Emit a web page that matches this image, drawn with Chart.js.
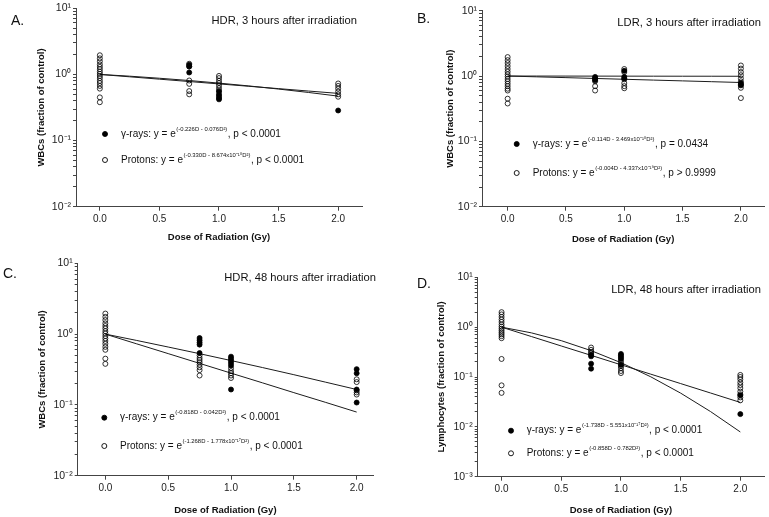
<!DOCTYPE html>
<html><head><meta charset="utf-8">
<script src="https://cdn.jsdelivr.net/npm/chart.js@4/dist/chart.umd.min.js"></script>
<style>
html,body{margin:0;padding:0;background:#fff;width:769px;height:517px;overflow:hidden}
canvas{position:absolute;left:0;top:0}
</style></head><body>
<canvas id="cA" width="769" height="517"></canvas>
<canvas id="cB" width="769" height="517"></canvas>
<canvas id="cC" width="769" height="517"></canvas>
<canvas id="cD" width="769" height="517"></canvas>
<script>
// ---------- data ----------
const xTickValues = [0, 0.5, 1.0, 1.5, 2.0];
const fitDose = [0, 0.25, 0.5, 0.75, 1.0, 1.25, 1.5, 1.75, 2.0];

// Panel A: HDR, 3 hours
const aGammaDose  = [0.75,0.75,0.75, 1,1,1,1,1, 2];
const aGammaValue = [1.40,1.32,1.07, 0.55,0.50,0.47,0.44,0.42, 0.285];
const aProtonDose  = [0,0,0,0,0,0,0,0,0,0,0,0,0,0,0,0, 0.75,0.75,0.75,0.75,0.75,0.75, 1,1,1,1,1,1,1, 2,2,2,2,2,2];
const aProtonValue = [1.95,1.75,1.58,1.42,1.30,1.20,1.10,1.02,0.95,0.88,0.80,0.74,0.67,0.61,0.45,0.38,
                      1.45,1.32,0.81,0.72,0.56,0.50, 0.95,0.88,0.80,0.74,0.68,0.62,0.57, 0.73,0.67,0.61,0.55,0.50,0.46];
const aGammaFit  = [1, 0.941, 0.876, 0.809, 0.739, 0.670, 0.601, 0.534, 0.470];
const aProtonFit = [1, 0.921, 0.848, 0.781, 0.719, 0.662, 0.610, 0.561, 0.517];

// Panel B: LDR, 3 hours
const bGammaDose  = [0.75,0.75,0.75, 1,1,1, 2,2,2];
const bGammaValue = [0.97,0.90,0.86, 1.20,0.97,0.92, 0.78,0.74,0.72];
const bProtonDose  = [0,0,0,0,0,0,0,0,0,0,0,0,0,0,0,0, 0.75,0.75,0.75,0.75, 1,1,1,1,1,1, 2,2,2,2,2,2,2,2];
const bProtonValue = [1.95,1.75,1.58,1.42,1.28,1.16,1.06,0.98,0.90,0.83,0.76,0.70,0.64,0.60,0.45,0.38,
                      0.93,0.83,0.70,0.60, 1.28,1.15,0.89,0.78,0.70,0.65, 1.45,1.30,1.15,1.03,0.92,0.83,0.66,0.46];
const bGammaFit  = [1, 0.972, 0.945, 0.918, 0.892, 0.867, 0.843, 0.819, 0.796];
const bProtonFit = [1, 0.999, 0.998, 0.997, 0.996, 0.995, 0.994, 0.993, 0.992];

// Panel C: HDR, 48 hours
const cGammaDose  = [0.75,0.75,0.75,0.75,0.75, 1,1,1,1,1,1, 2,2,2,2];
const cGammaValue = [0.88,0.82,0.76,0.71,0.54, 0.48,0.45,0.42,0.39,0.36,0.165, 0.32,0.28,0.165,0.108];
const cProtonDose  = [0,0,0,0,0,0,0,0,0,0,0,0,0,0,0,0, 0.75,0.75,0.75,0.75,0.75,0.75,0.75,0.75, 1,1,1,1,1, 2,2,2,2,2];
const cProtonValue = [1.95,1.75,1.58,1.42,1.30,1.20,1.10,1.02,0.94,0.87,0.80,0.73,0.66,0.60,0.45,0.38,
                      0.50,0.46,0.43,0.40,0.37,0.34,0.31,0.26, 0.33,0.30,0.28,0.26,0.24, 0.23,0.21,0.16,0.15,0.14];
const cGammaFit  = [1, 0.813, 0.657, 0.529, 0.423, 0.337, 0.267, 0.210, 0.165];
const cProtonFit = [1, 0.728, 0.530, 0.386, 0.281, 0.205, 0.149, 0.109, 0.0792];

// Panel D: LDR, 48 hours (lymphocytes)
const dGammaDose  = [0.75,0.75,0.75,0.75, 1,1,1,1,1, 2,2];
const dGammaValue = [0.28,0.26,0.185,0.147, 0.29,0.27,0.25,0.23,0.175, 0.043,0.018];
const dProtonDose  = [0,0,0,0,0,0,0,0,0,0,0,0,0,0,0,0, 0.75,0.75,0.75,0.75, 1,1,1,1,1,1, 2,2,2,2,2,2,2,2,2,2];
const dProtonValue = [2.0,1.8,1.6,1.42,1.27,1.13,1.02,0.93,0.85,0.78,0.72,0.66,0.60,0.23,0.068,0.048,
                      0.39,0.35,0.32,0.30, 0.21,0.19,0.165,0.15,0.132,0.12,
                      0.11,0.10,0.09,0.078,0.069,0.060,0.051,0.045,0.039,0.034];
const dGammaFit  = [1, 0.648, 0.419, 0.272, 0.176, 0.114, 0.0738, 0.0478, 0.0309];
const dProtonFit = [1, 0.768, 0.536, 0.338, 0.194, 0.1008, 0.0475, 0.0203, 0.0079];

// ---------- drawing ----------
const F = "'Liberation Sans', Arial, Helvetica, sans-serif";
const SUP = {'-':'⁻','0':'⁰','1':'¹','2':'²','3':'³','4':'⁴','5':'⁵','6':'⁶','7':'⁷','8':'⁸','9':'⁹'};
const sup = s => String(s).split('').map(c => SUP[c] || c).join('');

function pts(xs, ys) { return xs.map((x, i) => ({x: x, y: ys[i]})); }

function panelPlugin(p) {
  return {
    id: 'panelText' + p.letter,
    afterDraw(chart) {
      const ctx = chart.ctx;
      ctx.save();
      ctx.fillStyle = '#111';
      ctx.font = '14px ' + F;
      ctx.textBaseline = 'middle';
      ctx.textAlign = 'left';
      ctx.fillText(p.letter + '.', p.letterX, p.letterY);
      ctx.font = '11.2px ' + F;
      ctx.textAlign = 'right';
      ctx.fillText(p.title, p.titleRight, p.titleY);
      ctx.textAlign = 'left';
      p.legend.forEach((e, i) => {
        const y = p.legY[i];
        ctx.beginPath();
        ctx.arc(p.legMarkX, y, 2.5, 0, Math.PI * 2);
        ctx.lineWidth = 0.9;
        ctx.strokeStyle = '#000';
        if (e.filled) { ctx.fillStyle = '#000'; ctx.fill(); }
        ctx.stroke();
        ctx.fillStyle = '#111';
        let x = p.legTextX;
        ctx.font = '10px ' + F;
        ctx.fillText(e.pre, x, y);
        x += ctx.measureText(e.pre).width;
        ctx.font = '5.9px ' + F;
        ctx.fillText(e.exp, x + 0.5, y - 5);
        x += ctx.measureText(e.exp).width + 1;
        ctx.font = '10px ' + F;
        ctx.fillText(e.post, x, y);
      });
      ctx.restore();
    }
  };
}

function makePanel(canvasId, p) {
  const datasets = [
    {type: 'line', label: 'γ-rays fit', data: pts(fitDose, p.gFit), borderColor: '#1c1c1c', borderWidth: 1,
     pointRadius: 0, fill: false, tension: 0, order: 4},
    {type: 'line', label: 'Protons fit', data: pts(fitDose, p.pFit), borderColor: '#1c1c1c', borderWidth: 1,
     pointRadius: 0, fill: false, tension: 0, order: 3},
    {type: 'scatter', label: 'γ-rays', data: pts(p.gDose, p.gVal), pointRadius: 2.5, pointBackgroundColor: '#000',
     pointBorderColor: '#000', pointBorderWidth: 0.8, order: 2},
    {type: 'scatter', label: 'Protons', data: pts(p.pDose, p.pVal), pointRadius: 2.5,
     pointBackgroundColor: 'rgba(255,255,255,0)', pointBorderColor: '#000', pointBorderWidth: 0.8, order: 1}
  ];
  const yTicks = [];
  for (let e = Math.round(Math.log10(p.ymin)); e < 1; e++) {
    for (let m = 1; m <= 9; m++) yTicks.push(m * Math.pow(10, e));
  }
  yTicks.push(10);
  const half = 5.7;
  new Chart(document.getElementById(canvasId), {
    type: 'scatter',
    data: {datasets: datasets},
    options: {
      responsive: false, animation: false, devicePixelRatio: 1,
      layout: {padding: {left: p.yTitleX - half, top: p.T, right: 769 - p.R, bottom: 517 - (p.xTitleY + half)}},
      plugins: {legend: {display: false}, tooltip: {enabled: false}},
      scales: {
        x: {
          type: 'linear', min: p.xmin, max: p.xmax,
          afterBuildTicks: s => { s.ticks = xTickValues.map(v => ({value: v})); },
          afterFit: s => { s.height = p.xTitleY + half - p.B; },
          ticks: {callback: v => Number(v).toFixed(1), font: {family: F, size: 10}, color: '#222', padding: 3,
                  autoSkip: false, maxRotation: 0},
          grid: {drawOnChartArea: false, drawTicks: true, tickLength: 4, color: '#444'},
          border: {color: '#444', width: 1},
          title: {display: true, text: 'Dose of Radiation (Gy)', font: {family: F, size: 9.5, weight: 'bold'},
                  color: '#111', padding: 0}
        },
        y: {
          type: 'logarithmic', min: p.ymin, max: 10,
          afterBuildTicks: s => { s.ticks = yTicks.map(v => ({value: v})); },
          afterFit: s => { s.width = p.L - (p.yTitleX - half); },
          ticks: {
            callback: v => {
              const e = Math.log10(v);
              return Math.abs(e - Math.round(e)) < 1e-9 ? '10' + sup(Math.round(e)) : '';
            },
            font: {family: F, size: 10.5}, color: '#222', padding: 2, autoSkip: false
          },
          grid: {drawOnChartArea: false, drawTicks: true, tickLength: 3, color: '#444'},
          border: {color: '#444', width: 1},
          title: {display: true, text: p.yTitle, font: {family: F, size: 9.5, weight: 'bold'}, color: '#111', padding: 0}
        }
      }
    },
    plugins: [panelPlugin(p)]
  });
}

const WBC = 'WBCs (fraction of control)';

makePanel('cA', {
  letter: 'A', letterX: 11, letterY: 21, title: 'HDR, 3 hours after irradiation', titleRight: 357, titleY: 21,
  L: 76, R: 362, T: 8, B: 206.7, xmin: -0.2, xmax: 2.2, ymin: 0.01, yTitleX: 41.7, xTitleY: 237.7, yTitle: WBC,
  gDose: aGammaDose, gVal: aGammaValue, pDose: aProtonDose, pVal: aProtonValue, gFit: aGammaFit, pFit: aProtonFit,
  legMarkX: 105, legTextX: 121, legY: [134, 160],
  legend: [
    {filled: true, pre: 'γ-rays: y = e', exp: '(-0.226D - 0.076D²)', post: ', p < 0.0001'},
    {filled: false, pre: 'Protons: y = e', exp: '(-0.330D - 8.674x10⁻¹⁸D²)', post: ', p < 0.0001'}
  ]
});

makePanel('cB', {
  letter: 'B', letterX: 417, letterY: 19, title: 'LDR, 3 hours after irradiation', titleRight: 761, titleY: 23,
  L: 482, R: 765, T: 10.7, B: 206.7, xmin: -0.22, xmax: 2.2, ymin: 0.01, yTitleX: 450, xTitleY: 239.3, yTitle: WBC,
  gDose: bGammaDose, gVal: bGammaValue, pDose: bProtonDose, pVal: bProtonValue, gFit: bGammaFit, pFit: bProtonFit,
  legMarkX: 516.7, legTextX: 532.7, legY: [144, 173],
  legend: [
    {filled: true, pre: 'γ-rays: y = e', exp: '(-0.114D - 3.469x10⁻¹⁸D²)', post: ', p = 0.0434'},
    {filled: false, pre: 'Protons: y = e', exp: '(-0.004D - 4.337x10⁻¹⁹D²)', post: ', p > 0.9999'}
  ]
});

makePanel('cC', {
  letter: 'C', letterX: 3, letterY: 274, title: 'HDR, 48 hours after irradiation', titleRight: 376, titleY: 278,
  L: 77.7, R: 373, T: 263.3, B: 475.7, xmin: -0.22, xmax: 2.13, ymin: 0.01, yTitleX: 42.7, xTitleY: 510, yTitle: WBC,
  gDose: cGammaDose, gVal: cGammaValue, pDose: cProtonDose, pVal: cProtonValue, gFit: cGammaFit, pFit: cProtonFit,
  legMarkX: 104.3, legTextX: 120, legY: [417.7, 446],
  legend: [
    {filled: true, pre: 'γ-rays: y = e', exp: '(-0.818D - 0.042D²)', post: ', p < 0.0001'},
    {filled: false, pre: 'Protons: y = e', exp: '(-1.268D - 1.778x10⁻¹⁷D²)', post: ', p < 0.0001'}
  ]
});

makePanel('cD', {
  letter: 'D', letterX: 417, letterY: 284, title: 'LDR, 48 hours after irradiation', titleRight: 761, titleY: 290,
  L: 477.7, R: 765, T: 277.3, B: 476.7, xmin: -0.2, xmax: 2.2, ymin: 0.001, yTitleX: 441.7, xTitleY: 510,
  yTitle: 'Lymphocytes (fraction of control)',
  gDose: dGammaDose, gVal: dGammaValue, pDose: dProtonDose, pVal: dProtonValue, gFit: dGammaFit, pFit: dProtonFit,
  legMarkX: 511, legTextX: 526.7, legY: [430.7, 453.3],
  legend: [
    {filled: true, pre: 'γ-rays: y = e', exp: '(-1.738D - 5.551x10⁻¹⁷D²)', post: ', p < 0.0001'},
    {filled: false, pre: 'Protons: y = e', exp: '(-0.858D - 0.782D²)', post: ', p < 0.0001'}
  ]
});
</script>
</body></html>
